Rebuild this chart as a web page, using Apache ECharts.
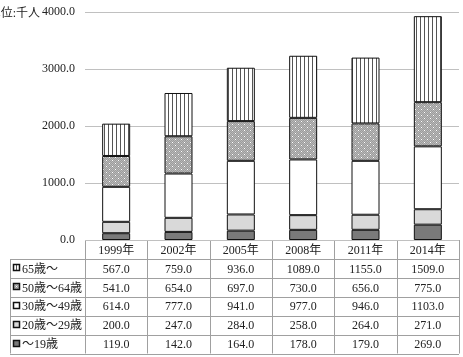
<!DOCTYPE html>
<html>
<head>
<meta charset="utf-8">
<script src="https://cdn.jsdelivr.net/npm/echarts@6/dist/echarts.min.js"></script>
<style>
html, body { margin: 0; padding: 0; background: #fff; }
#main { width: 463px; height: 357px; }
</style>
</head>
<body>
<div id="main"></div>
<script>
var years = ['1999年', '2002年', '2005年', '2008年', '2011年', '2014年'];
var age19 = [119.0, 142.0, 164.0, 178.0, 179.0, 269.0];
var age20_29 = [200.0, 247.0, 284.0, 258.0, 264.0, 271.0];
var age30_49 = [614.0, 777.0, 941.0, 977.0, 946.0, 1103.0];
var age50_64 = [541.0, 654.0, 697.0, 730.0, 656.0, 775.0];
var age65 = [567.0, 759.0, 936.0, 1089.0, 1155.0, 1509.0];
var yTicks = [0, 1000, 2000, 3000, 4000];

var font = '"Liberation Serif", "Noto Sans CJK JP", serif';

// 縦線の模様
function stripes() {
    var c = document.createElement('canvas');
    c.width = 4; c.height = 4;
    var g = c.getContext('2d');
    g.fillStyle = '#ffffff';
    g.fillRect(0, 0, 4, 4);
    g.fillStyle = '#555555';
    g.fillRect(0, 0, 1, 4);
    return c;
}
// 点の模様
function dots() {
    var c = document.createElement('canvas');
    c.width = 6; c.height = 6;
    var g = c.getContext('2d');
    g.fillStyle = '#9c9c9c';
    g.fillRect(0, 0, 6, 6);
    g.fillStyle = '#b8b8b8';
    for (var y = 0; y < 6; y++) {
        for (var x = 0; x < 6; x++) {
            if ((x + y) % 2 == 0) g.fillRect(x, y, 1, 1);
        }
    }
    g.fillStyle = '#ffffff';
    g.fillRect(1, 1, 1, 1);
    g.fillRect(4, 4, 1, 1);
    return c;
}

var colStripes = { image: stripes(), repeat: 'repeat' };
var colDots = { image: dots(), repeat: 'repeat' };

var seriesDefs = [
    { name: '～19歳', data: age19, color: '#7a7a7a' },
    { name: '20歳～29歳', data: age20_29, color: '#d9d9d9' },
    { name: '30歳～49歳', data: age30_49, color: '#ffffff' },
    { name: '50歳～64歳', data: age50_64, color: colDots },
    { name: '65歳～', data: age65, color: colStripes }
];

var gridL = 85, gridR = 459, gridT = 12, gridB = 240;
var colW = (gridR - gridL) / years.length;
var rowH = 18.9;
var headH = 19;
var labelL = 10;

var series = seriesDefs.map(function (s) {
    return {
        name: s.name,
        type: 'bar',
        stack: 'total',
        barWidth: 28,
        itemStyle: { color: s.color, borderColor: '#111', borderWidth: 1 },
        data: s.data
    };
});

// 表の組み立て
var graphic = [];
var lineStyle = { stroke: '#a0a0a0', lineWidth: 1 };
var tableRows = seriesDefs.slice().reverse();
var tableBottom = gridB + headH + rowH * tableRows.length;
function hline(x1, x2, y) {
    graphic.push({ type: 'line', shape: { x1: x1, y1: y, x2: x2, y2: y }, style: lineStyle, silent: true });
}
function vline(x, y1, y2) {
    graphic.push({ type: 'line', shape: { x1: x, y1: y1, x2: x, y2: y2 }, style: lineStyle, silent: true });
}
hline(gridL, gridR, gridB + 0.5);
for (var r = 0; r <= tableRows.length; r++) {
    hline(labelL, gridR, Math.round(gridB + headH + r * rowH) + 0.5);
}
vline(labelL + 0.5, gridB + headH, tableBottom);
for (var k = 0; k <= years.length; k++) {
    vline(Math.round(gridL + k * colW) + 0.5, gridB, tableBottom);
}
years.forEach(function (y, i) {
    graphic.push({
        type: 'text', silent: true,
        style: { x: gridL + (i + 0.5) * colW, y: gridB + headH / 2 + 1, text: y, font: '12px ' + font, fill: '#222', align: 'center', verticalAlign: 'middle' }
    });
});
tableRows.forEach(function (s, r) {
    var cy = gridB + headH + (r + 0.5) * rowH + 1;
    graphic.push({
        type: 'rect', silent: true,
        shape: { x: 13.5, y: Math.round(cy) - 4.5, width: 6, height: 6 },
        style: { fill: s.color, stroke: '#111', lineWidth: 1.5 }
    });
    graphic.push({
        type: 'text', silent: true,
        style: { x: 22, y: cy, text: s.name, font: '12px ' + font, fill: '#222', align: 'left', verticalAlign: 'middle' }
    });
    s.data.forEach(function (v, i) {
        graphic.push({
            type: 'text', silent: true,
            style: { x: gridL + (i + 0.5) * colW, y: cy, text: v.toFixed(1), font: '12px ' + font, fill: '#222', align: 'center', verticalAlign: 'middle' }
        });
    });
});
graphic.push({
    type: 'text', silent: true,
    style: { x: 40, y: 14, text: '単位:千人', font: '12px ' + font, fill: '#222', align: 'right', verticalAlign: 'middle' }
});

var myChart = echarts.init(document.getElementById('main'));
var option = {
    animation: false,
    grid: { left: gridL, right: 463 - gridR, top: gridT, bottom: 357 - gridB, containLabel: false },
    xAxis: {
        type: 'category',
        data: years,
        axisLine: { show: false },
        axisTick: { show: false },
        axisLabel: { show: false }
    },
    yAxis: {
        type: 'value',
        min: yTicks[0],
        max: yTicks[yTicks.length - 1],
        interval: 1000,
        axisLine: { show: false },
        axisTick: { show: false },
        axisLabel: {
            formatter: function (v) { return v.toFixed(1); },
            fontFamily: font, fontSize: 12, color: '#222', margin: 10
        },
        splitLine: { lineStyle: { color: '#c0c0c0', width: 1 } }
    },
    series: series,
    graphic: graphic
};
myChart.setOption(option);
</script>
</body>
</html>
